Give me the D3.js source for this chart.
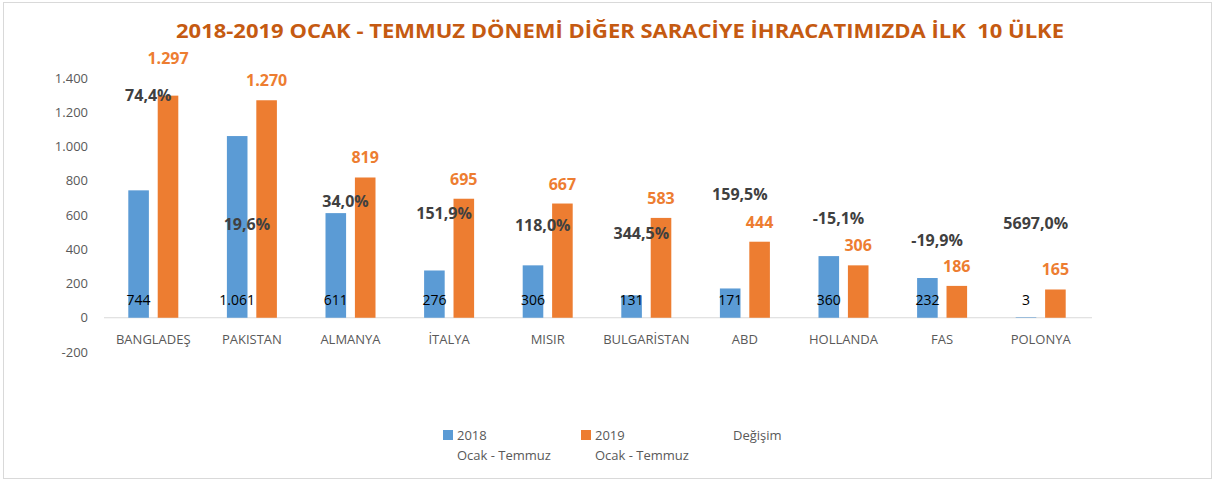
<!DOCTYPE html>
<html>
<head>
<meta charset="utf-8">
<style>
body { margin: 0; background: #fff; }
text { font-family: "Open Sans", "Noto Sans", sans-serif; }
</style>
</head>
<body>
<svg width="1215" height="481"></svg>
<script src="https://d3js.org/d3.v7.min.js"></script>
<script>

// countries and values (ton / bin $ as in the source chart)
var countries = ["BANGLADEŞ", "PAKISTAN", "ALMANYA", "İTALYA", "MISIR", "BULGARİSTAN", "ABD", "HOLLANDA", "FAS", "POLONYA"];
var values2018 = [744, 1061, 611, 276, 306, 131, 171, 360, 232, 3];
var values2019 = [1297, 1270, 819, 695, 667, 583, 444, 306, 186, 165];
var degisim = ["74,4%", "19,6%", "34,0%", "151,9%", "118,0%", "344,5%", "159,5%", "-15,1%", "-19,9%", "5697,0%"];
// where the change labels sit, read in left-axis units
var degisimAt = [1300, 548, 683, 613, 543, 496, 723, 583, 455, 554];
var yTicks = [-200, 0, 200, 400, 600, 800, 1000, 1200, 1400];

var svg = d3.select("svg"),
  width = +svg.attr("width"),
  height = +svg.attr("height");

// turkish style numbers: 1.297, plain hyphen for minus
var fmt = function(v) { return d3.format(",")(v).replace(/,/g, ".").replace("\u2212", "-"); };

// light frame round the chart
svg.append("rect")
  .attr("x", 3.5).attr("y", 2.5)
  .attr("width", width - 7).attr("height", height - 5)
  .attr("fill", "#fff").attr("stroke", "#d9d9d9");

var blue = "#5b9bd5", orange = "#ed7d31";

var x = d3.scaleBand().domain(countries).range([104, 1090]);
var inner = d3.scaleBand().domain(["a", "b"]).range([x.bandwidth() / 2 - 25, x.bandwidth() / 2 + 25]).paddingInner(0.3);
var y = d3.scaleLinear().domain([-200, 1400]).range([352, 78]);

// title
svg.append("text")
  .attr("x", 620).attr("y", 38)
  .attr("text-anchor", "middle")
  .attr("textLength", 888).attr("lengthAdjust", "spacingAndGlyphs")
  .style("font-size", "20px").style("font-weight", "bold")
  .style("white-space", "pre")
  .attr("fill", "#c55a11")
  .text("2018-2019 OCAK - TEMMUZ DÖNEMİ DİĞER SARACİYE İHRACATIMIZDA İLK  10 ÜLKE");

// y axis labels only
var yAxis = svg.append("g")
  .attr("transform", "translate(88,0)")
  .call(d3.axisLeft(y).tickValues(yTicks).tickSize(0).tickPadding(0).tickFormat(fmt));
yAxis.select(".domain").remove();
yAxis.selectAll("text").attr("fill", "#595959").style("font-size", "13px");

// baseline
svg.append("line")
  .attr("x1", 104).attr("x2", 1092)
  .attr("y1", y(0)).attr("y2", y(0))
  .attr("stroke", "#d9d9d9");

var groups = svg.append("g").selectAll("g")
  .data(countries)
  .enter().append("g")
  .attr("transform", function(d) { return "translate(" + x(d) + ",0)"; });

groups.append("rect")
  .attr("x", inner("a")).attr("width", inner.bandwidth())
  .attr("y", function(d, i) { return y(values2018[i]); })
  .attr("height", function(d, i) { return y(0) - y(values2018[i]); })
  .attr("fill", blue);

groups.append("rect")
  .attr("x", inner("b")).attr("width", inner.bandwidth())
  .attr("y", function(d, i) { return y(values2019[i]); })
  .attr("height", function(d, i) { return y(0) - y(values2019[i]); })
  .attr("fill", orange);

// 2018 labels inside the bottom of blue bars
groups.append("text")
  .attr("x", inner("a") + inner.bandwidth() / 2)
  .attr("y", y(0) - 13)
  .attr("text-anchor", "middle")
  .style("font-size", "14px").attr("fill", "#000")
  .text(function(d, i) { return fmt(values2018[i]); });

// 2019 labels above orange bars (first one pushed up past the % label)
groups.append("text")
  .attr("x", inner("b") + inner.bandwidth() / 2)
  .attr("y", function(d, i) { return y(values2019[i]) - (i === 0 ? 32 : 14); })
  .attr("text-anchor", "middle")
  .style("font-size", "16px").style("font-weight", "bold").attr("fill", orange)
  .text(function(d, i) { return fmt(values2019[i]); });

// change labels
groups.append("text")
  .attr("x", x.bandwidth() / 2 - 5)
  .attr("y", function(d, i) { return y(degisimAt[i]) + 6; })
  .attr("text-anchor", "middle")
  .style("font-size", "16px").style("font-weight", "bold").attr("fill", "#404040")
  .text(function(d, i) { return degisim[i]; });

// category labels
groups.append("text")
  .attr("x", x.bandwidth() / 2)
  .attr("y", y(0) + 26)
  .attr("text-anchor", "middle")
  .style("font-size", "13px").attr("fill", "#595959")
  .text(function(d) { return d; });

// legend
var legend = [
  { color: blue, x: 443, lines: ["2018", "Ocak - Temmuz"] },
  { color: orange, x: 581, lines: ["2019", "Ocak - Temmuz"] },
  { color: null, x: 719, lines: ["Değişim"] }
];
var lg = svg.append("g").selectAll("g").data(legend).enter().append("g")
  .attr("transform", function(d) { return "translate(" + d.x + ",428)"; });
lg.filter(function(d) { return d.color; }).append("rect")
  .attr("x", 0).attr("y", 2).attr("width", 10).attr("height", 10)
  .attr("fill", function(d) { return d.color; });
lg.each(function(d) {
  var t = d3.select(this).append("text")
    .style("font-size", "13px").attr("fill", "#595959");
  d.lines.forEach(function(l, k) {
    t.append("tspan").attr("x", 14).attr("y", 12 + k * 20).text(l);
  });
});

</script>
</body>
</html>
